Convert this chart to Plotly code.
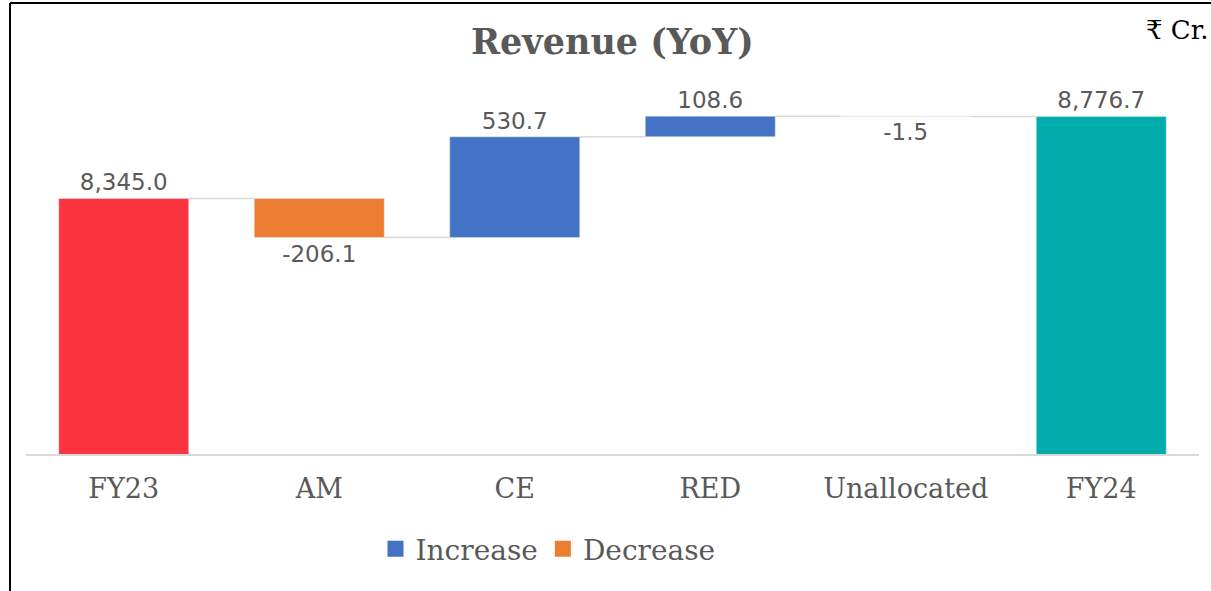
import plotly.graph_objects as go

categories = ["FY23", "AM", "CE", "RED", "Unallocated", "FY24"]
start_value = 8345.0
changes = [-206.1, 530.7, 108.6, -1.5]
end_value = 8776.7

COL_START = "#FC3440"
COL_END = "#00ACAC"
COL_INC = "#4472C4"
COL_DEC = "#ED7D31"
GRAY = "#595959"
CONN = "#D9D9D9"

W = 1211
H = 591
ML, MR, MT, MB = 26, 12, 74, 137
PW = W - ML - MR
PH = H - MT - MB
Y0, Y1 = 7000, 9000
BW = 0.665


def px_x(p):
    return (p - ML) / PW


def px_y(p):
    return (H - MB - p) / PH


def fmt(v):
    return f"{v:,.1f}"


levels = [start_value]
for c in changes:
    levels.append(levels[-1] + c)

inc_x, inc_y, inc_b, inc_t = [], [], [], []
dec_x, dec_y, dec_b, dec_t = [], [], [], []
for i, c in enumerate(changes):
    xi = i + 1
    if c >= 0:
        inc_x.append(xi); inc_y.append(c); inc_b.append(levels[i]); inc_t.append(fmt(c))
    else:
        dec_x.append(xi); dec_y.append(c); dec_b.append(levels[i]); dec_t.append(fmt(c))

fig = go.Figure()

cx, cy = [], []
for i in range(len(categories) - 1):
    lvl = levels[min(i, len(levels) - 1)]
    if i == len(categories) - 2:
        lvl = levels[-1]
    cx += [i + BW / 2, i + 1 - BW / 2, None]
    cy += [lvl, lvl, None]
fig.add_trace(go.Scatter(x=cx, y=cy, mode="lines", line=dict(color=CONN, width=1.5),
                         showlegend=False, hoverinfo="skip"))

common = dict(width=BW, textposition="outside", cliponaxis=False, constraintext="none",
              textfont=dict(family="DejaVu Sans", size=23, color=GRAY), hoverinfo="skip",
              showlegend=False)

fig.add_trace(go.Bar(x=[0], y=[start_value], marker=dict(color=COL_START),
                     text=[fmt(start_value)], **common))
fig.add_trace(go.Bar(x=inc_x, y=inc_y, base=inc_b, name="Increase",
                     marker=dict(color=COL_INC), text=inc_t, **common))
fig.add_trace(go.Bar(x=dec_x, y=dec_y, base=dec_b, name="Decrease",
                     marker=dict(color=COL_DEC), text=dec_t, **common))
fig.add_trace(go.Bar(x=[len(categories) - 1], y=[end_value], marker=dict(color=COL_END),
                     text=[fmt(end_value)], **common))

for name, col in [("Increase", COL_INC), ("Decrease", COL_DEC)]:
    fig.add_trace(go.Scatter(x=[None], y=[None], mode="markers", name=name,
                             marker=dict(symbol="square", size=17, color=col),
                             hoverinfo="skip"))

fig.update_layout(
    width=W, height=H,
    margin=dict(l=ML, r=MR, t=MT, b=MB),
    paper_bgcolor="white", plot_bgcolor="white",
    barmode="overlay",
    showlegend=True,
    hovermode=False,
    legend=dict(orientation="h", x=px_x(548), y=px_y(549), xanchor="center", yanchor="middle",
                font=dict(family="DejaVu Serif", size=28, color=GRAY), traceorder="normal",
                itemsizing="trace", itemwidth=30),
    xaxis=dict(range=[-0.5, len(categories) - 0.5], tickvals=list(range(len(categories))),
               ticktext=categories, showgrid=False, zeroline=False, showline=True,
               linecolor=CONN, linewidth=1.5, ticks="", ticklabelstandoff=10,
               tickfont=dict(family="DejaVu Serif", size=27, color=GRAY)),
    yaxis=dict(range=[Y0, Y1], visible=False, showgrid=False, zeroline=False),
    annotations=[
        dict(text="<b>Revenue (YoY)</b>", xref="paper", yref="paper", x=0.5, y=px_y(42),
             xanchor="center", yanchor="middle", showarrow=False,
             font=dict(family="DejaVu Serif", size=35, color=GRAY)),
        dict(text="₹ Cr.", xref="paper", yref="paper", x=px_x(1211), y=px_y(30),
             xanchor="right", yanchor="middle", showarrow=False,
             font=dict(family="DejaVu Serif", size=26, color="black")),
    ],
    shapes=[
        dict(type="line", xref="paper", yref="paper", x0=px_x(10), x1=px_x(1211),
             y0=px_y(3), y1=px_y(3), line=dict(color="black", width=2)),
        dict(type="line", xref="paper", yref="paper", x0=px_x(10), x1=px_x(10),
             y0=px_y(3), y1=px_y(591), line=dict(color="black", width=2)),
    ],
)

fig.write_html("out.html", config={"displayModeBar": False},
               post_script="document.body.style.margin='0';")
